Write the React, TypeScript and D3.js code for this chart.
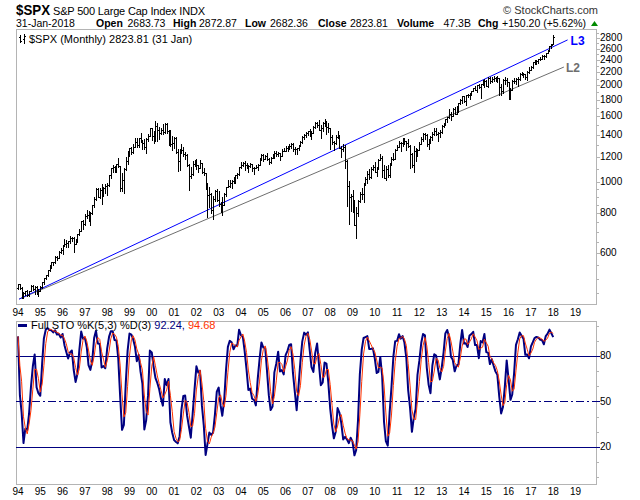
import React from "react";
import * as d3 from "d3";

// ---------- DATA (monthly S&P 500, Jan 1994 .. Jan 2018) ----------
const START_YEAR = 1994;
const FIRST_OPEN = 466.45;
const LAST_OPEN = 2683.73;

const CLOSES = [
  481.61, 467.14, 445.77, 450.91, 456.5, 444.27, 458.26, 475.49, 462.69, 472.35, 453.69, 459.27,
  470.42, 487.39, 500.71, 514.71, 533.4, 544.75, 562.06, 561.88, 584.41, 581.5, 605.37, 615.93,
  636.02, 640.43, 645.5, 654.17, 669.12, 670.63, 639.95, 651.99, 687.31, 705.27, 757.02, 740.74,
  786.16, 790.82, 757.12, 801.34, 848.28, 885.14, 954.29, 899.47, 947.28, 914.62, 955.4, 970.43,
  980.28, 1049.34, 1101.75, 1111.75, 1090.82, 1133.84, 1120.67, 957.28, 1017.01, 1098.67, 1163.63, 1229.23,
  1279.64, 1238.33, 1286.37, 1335.18, 1301.84, 1372.71, 1328.72, 1320.41, 1282.71, 1362.93, 1388.91, 1469.25,
  1394.46, 1366.42, 1498.58, 1452.43, 1420.6, 1454.6, 1430.83, 1517.68, 1436.51, 1429.4, 1314.95, 1320.28,
  1366.01, 1239.94, 1160.33, 1249.46, 1255.82, 1224.38, 1211.23, 1133.58, 1040.94, 1059.78, 1139.45, 1148.08,
  1130.2, 1106.73, 1147.39, 1076.92, 1067.14, 989.82, 911.62, 916.07, 815.28, 885.76, 936.31, 879.82,
  855.7, 841.15, 848.18, 916.92, 963.59, 974.5, 990.31, 1008.01, 995.97, 1050.71, 1058.2, 1111.92,
  1131.13, 1144.94, 1126.21, 1107.3, 1120.68, 1140.84, 1101.72, 1104.24, 1114.58, 1130.2, 1173.82, 1211.92,
  1181.27, 1203.6, 1180.59, 1156.85, 1191.5, 1191.33, 1234.18, 1220.33, 1228.81, 1207.01, 1249.48, 1248.29,
  1280.08, 1280.66, 1294.83, 1310.61, 1270.09, 1270.2, 1276.66, 1303.82, 1335.85, 1377.94, 1400.63, 1418.3,
  1438.24, 1406.82, 1420.86, 1482.37, 1530.62, 1503.35, 1455.27, 1473.99, 1526.75, 1549.38, 1481.14, 1468.36,
  1378.55, 1330.63, 1322.7, 1385.59, 1400.38, 1280.0, 1267.38, 1282.83, 1166.36, 968.75, 896.24, 903.25,
  825.88, 735.09, 797.87, 872.81, 919.14, 919.32, 987.48, 1020.62, 1057.08, 1036.19, 1095.63, 1115.1,
  1073.87, 1104.49, 1169.43, 1186.69, 1089.41, 1030.71, 1101.6, 1049.33, 1141.2, 1183.26, 1180.55, 1257.64,
  1286.12, 1327.22, 1325.83, 1363.61, 1345.2, 1320.64, 1292.28, 1218.89, 1131.42, 1253.3, 1246.96, 1257.6,
  1312.41, 1365.68, 1408.47, 1397.91, 1310.33, 1362.16, 1379.32, 1406.58, 1440.67, 1412.16, 1416.18, 1426.19,
  1498.11, 1514.68, 1569.19, 1597.57, 1630.74, 1606.28, 1685.73, 1632.97, 1681.55, 1756.54, 1805.81, 1848.36,
  1782.59, 1859.45, 1872.34, 1883.95, 1923.57, 1960.23, 1930.67, 2003.37, 1972.29, 2018.05, 2067.56, 2058.9,
  1994.99, 2104.5, 2067.89, 2085.51, 2107.39, 2063.11, 2103.84, 1972.18, 1920.03, 2079.36, 2080.41, 2043.94,
  1940.24, 1932.23, 2059.74, 2065.3, 2096.95, 2098.86, 2173.6, 2170.95, 2168.27, 2126.15, 2198.81, 2238.83,
  2278.87, 2363.64, 2362.72, 2384.2, 2411.8, 2423.41, 2470.3, 2471.65, 2519.36, 2575.26, 2647.58, 2673.61,
  2823.81,
];

const HIGHS = [
  482.85, 483.0, 471.09, 453.11, 458.54, 462.12, 459.27, 477.0, 476.5, 473.8, 473.9, 466.0,
  473.0, 489.0, 503.0, 515.0, 534.0, 551.0, 563.0, 565.0, 587.0, 587.0, 608.0, 623.0,
  638.0, 665.0, 661.0, 657.0, 681.0, 673.0, 675.0, 665.0, 690.0, 714.0, 758.0, 762.0,
  795.0, 817.0, 815.0, 805.0, 850.0, 898.0, 957.0, 960.0, 961.0, 987.0, 963.0, 986.0,
  992.0, 1051.0, 1106.0, 1130.0, 1123.0, 1139.0, 1190.0, 1122.0, 1067.0, 1102.0, 1193.0, 1245.0,
  1280.0, 1285.0, 1317.0, 1371.0, 1368.0, 1374.0, 1420.0, 1351.0, 1357.0, 1373.0, 1408.0, 1475.0,
  1478.0, 1445.0, 1553.0, 1528.0, 1482.0, 1475.0, 1517.0, 1525.0, 1530.0, 1454.0, 1453.0, 1389.0,
  1384.0, 1377.0, 1268.0, 1269.0, 1316.0, 1287.0, 1239.0, 1224.0, 1135.0, 1111.0, 1163.0, 1174.0,
  1176.0, 1130.5, 1173.0, 1147.8, 1106.0, 1070.0, 994.0, 966.0, 925.0, 907.0, 942.0, 954.0,
  935.0, 864.0, 895.0, 924.0, 966.0, 1015.0, 1015.0, 1011.0, 1040.0, 1054.0, 1063.0, 1112.0,
  1155.0, 1158.0, 1163.0, 1150.0, 1128.0, 1146.0, 1141.0, 1110.0, 1131.0, 1140.0, 1188.0, 1218.0,
  1218.0, 1213.0, 1229.0, 1192.0, 1200.0, 1219.0, 1246.0, 1245.0, 1244.0, 1233.0, 1271.0, 1276.0,
  1295.0, 1297.0, 1310.0, 1318.0, 1326.0, 1284.0, 1280.0, 1306.0, 1340.0, 1390.0, 1407.0, 1432.0,
  1441.0, 1461.0, 1438.0, 1498.0, 1535.0, 1541.0, 1556.0, 1504.0, 1538.0, 1576.0, 1553.0, 1524.0,
  1472.0, 1396.0, 1341.0, 1397.0, 1441.0, 1405.0, 1293.0, 1314.0, 1303.0, 1168.0, 1008.0, 918.0,
  944.0, 876.0, 833.0, 878.0, 930.0, 957.0, 996.0, 1039.0, 1081.0, 1101.0, 1113.0, 1130.0,
  1151.0, 1112.0, 1181.0, 1220.0, 1206.0, 1132.0, 1120.0, 1130.0, 1150.0, 1196.0, 1227.0, 1263.0,
  1303.0, 1345.0, 1333.0, 1366.0, 1371.0, 1346.0, 1357.0, 1308.0, 1230.0, 1293.0, 1278.0, 1269.0,
  1334.0, 1378.0, 1420.0, 1422.0, 1415.0, 1363.0, 1392.0, 1427.0, 1475.0, 1470.0, 1434.0, 1449.0,
  1510.0, 1530.0, 1570.0, 1598.0, 1687.0, 1654.0, 1698.0, 1710.0, 1730.0, 1765.0, 1814.0, 1850.0,
  1850.0, 1867.0, 1884.0, 1897.0, 1925.0, 1968.0, 1991.0, 2005.0, 2019.0, 2019.0, 2076.0, 2094.0,
  2073.0, 2119.0, 2118.0, 2126.0, 2135.0, 2130.0, 2133.0, 2113.0, 2021.0, 2094.0, 2116.0, 2104.0,
  2044.0, 1963.0, 2073.0, 2111.0, 2103.0, 2121.0, 2178.0, 2194.0, 2188.0, 2170.0, 2214.0, 2278.0,
  2301.0, 2371.0, 2401.0, 2399.0, 2418.0, 2454.0, 2484.0, 2491.0, 2520.0, 2582.0, 2657.0, 2695.0,
  2872.87,
];

const LOWS = [
  465.44, 464.26, 436.16, 435.86, 443.93, 441.5, 443.0, 457.0, 460.5, 449.4, 447.0, 443.0,
  457.0, 469.0, 481.0, 500.0, 510.0, 530.0, 541.0, 553.0, 560.0, 571.0, 580.0, 602.0,
  597.0, 631.0, 627.0, 627.0, 646.0, 657.0, 605.0, 639.0, 650.0, 684.0, 703.0, 716.0,
  737.0, 773.0, 756.0, 733.0, 797.0, 836.0, 882.0, 897.0, 893.0, 855.0, 902.0, 924.0,
  912.0, 971.0, 1032.0, 1076.0, 1074.0, 1074.0, 1115.0, 940.0, 940.0, 923.0, 1090.0, 1138.0,
  1205.0, 1225.0, 1232.0, 1282.0, 1287.0, 1281.0, 1328.0, 1269.0, 1269.0, 1233.0, 1342.0, 1387.0,
  1350.0, 1325.0, 1339.0, 1339.0, 1361.0, 1415.0, 1413.0, 1426.0, 1419.0, 1305.0, 1294.0, 1254.0,
  1275.0, 1228.0, 1081.0, 1092.0, 1232.0, 1202.0, 1183.0, 1124.0, 944.0, 1026.0, 1054.0, 1123.0,
  1101.0, 1074.0, 1105.0, 1063.0, 1048.0, 953.0, 776.0, 833.0, 801.0, 769.0, 873.0, 871.0,
  840.0, 807.0, 789.0, 847.0, 902.0, 963.0, 962.0, 960.0, 990.0, 995.0, 1031.0, 1053.0,
  1105.0, 1124.0, 1087.0, 1105.0, 1076.0, 1113.0, 1079.0, 1060.0, 1102.0, 1090.0, 1128.0, 1173.0,
  1163.0, 1180.0, 1175.0, 1137.0, 1146.0, 1188.0, 1191.0, 1201.0, 1205.0, 1168.0, 1202.0, 1246.0,
  1245.0, 1253.0, 1268.0, 1280.0, 1246.0, 1219.0, 1224.0, 1262.0, 1290.0, 1327.0, 1360.0, 1385.0,
  1403.0, 1389.0, 1364.0, 1416.0, 1476.0, 1484.0, 1454.0, 1371.0, 1439.0, 1489.0, 1407.0, 1435.0,
  1271.0, 1317.0, 1257.0, 1312.0, 1373.0, 1272.0, 1200.0, 1248.0, 1107.0, 840.0, 741.0, 815.0,
  805.0, 735.0, 667.0, 784.0, 866.0, 888.0, 869.0, 978.0, 992.0, 1020.0, 1029.0, 1086.0,
  1071.0, 1045.0, 1101.0, 1168.0, 1040.0, 1029.0, 1011.0, 1040.0, 1039.0, 1131.0, 1173.0, 1179.0,
  1257.0, 1284.0, 1249.0, 1299.0, 1311.0, 1258.0, 1282.0, 1102.0, 1114.0, 1075.0, 1159.0, 1202.0,
  1257.0, 1311.0, 1340.0, 1358.0, 1292.0, 1267.0, 1325.0, 1355.0, 1397.0, 1403.0, 1343.0, 1385.0,
  1426.0, 1485.0, 1501.0, 1536.0, 1581.0, 1560.0, 1605.0, 1627.0, 1632.0, 1646.0, 1746.0, 1768.0,
  1771.0, 1738.0, 1834.0, 1815.0, 1860.0, 1915.0, 1930.0, 1905.0, 1965.0, 1821.0, 2001.0, 1973.0,
  1988.0, 1981.0, 2040.0, 2049.0, 2067.0, 2056.0, 2044.0, 1867.0, 1872.0, 1893.0, 2019.0, 1993.0,
  1812.0, 1810.0, 1931.0, 2033.0, 2025.0, 1992.0, 2075.0, 2147.0, 2120.0, 2098.0, 2084.0, 2188.0,
  2238.0, 2271.0, 2322.0, 2328.0, 2353.0, 2405.0, 2407.0, 2417.0, 2447.0, 2515.0, 2557.0, 2605.0,
  2682.36,
];

const YEAR_LABELS = ["94","95","96","97","98","99","00","01","02","03","04","05","06","07","08","09","10","11","12","13","14","15","16","17","18","19"];
const PRICE_LABELS = [600, 800, 1000, 1200, 1400, 1600, 1800, 2000, 2200, 2400, 2600, 2800];
const PRICE_MINOR = [450, 500, 550, 650, 700, 750, 850, 900, 950, 1100, 1300, 1500, 1700, 1900, 2100, 2300, 2500, 2700, 2900];
const STO_LABELS = [20, 50, 80];
const STO_MINOR = [0, 10, 30, 40, 60, 70, 90, 100];

// trendlines: [date, price] anchors
const L3_POINTS: [string, number][] = [["1994-01-20", 432], ["2018-08-25", 2770]];
const L2_POINTS: [string, number][] = [["1994-01-20", 432], ["2018-06-25", 2280]];

const HEADER_FIELDS = [
  { label: "Open", value: "2683.73", lx: 96, vx: 127.5 },
  { label: "High", value: "2872.87", lx: 173, vx: 199 },
  { label: "Low", value: "2682.36", lx: 245, vx: 270 },
  { label: "Close", value: "2823.81", lx: 318, vx: 350 },
  { label: "Volume", value: "47.3B", lx: 397, vx: 443.5 },
  { label: "Chg", value: "+150.20 (+5.62%)", lx: 478, vx: 502 },
];

const FONT = "'Liberation Sans', Arial, Helvetica, sans-serif";
const NAVY = "#000080";
const RED = "#ff3300";
const FRAME = "#b4b4b4";

export default function App() {
  const n = CLOSES.length;
  const dates = d3.range(n).map((i) => new Date(Date.UTC(START_YEAR, i, 1)));
  const opens = CLOSES.map((c, i) => (i === 0 ? FIRST_OPEN : i === n - 1 ? LAST_OPEN : CLOSES[i - 1]));

  const P = { l: 16, r: 596, t: 29, b: 304 };
  const S = { l: 16, r: 596, t: 321, b: 484 };

  const x = d3
    .scaleUtc()
    .domain([new Date(Date.UTC(1994, 0, 1)), new Date(Date.UTC(2019, 0, 1))])
    .range([18, 575.5]);
  const y = d3.scaleLog().domain([417, 2995]).range([P.b, P.t]);
  const ys = d3.scaleLinear().domain([-4.4, 103]).range([S.b, S.t]);

  // Full stochastic %K(5,3) %D(3)
  const rawK = CLOSES.map((c, i) => {
    const s = Math.max(0, i - 4);
    const hh = d3.max(HIGHS.slice(s, i + 1)) as number;
    const ll = d3.min(LOWS.slice(s, i + 1)) as number;
    return hh === ll ? 50 : (100 * (c - ll)) / (hh - ll);
  });
  const sma = (arr: number[], p: number) =>
    arr.map((_, i) => d3.mean(arr.slice(Math.max(0, i - p + 1), i + 1)) as number);
  const fullK = sma(rawK, 3);
  const fullD = sma(fullK, 3);

  const stoLine = d3
    .line<number>()
    .x((_, i) => x(dates[i]))
    .y((v) => ys(v));

  const trend = (pts: [string, number][]) =>
    d3
      .line<[string, number]>()
      .x((p) => x(new Date(p[0] + "T00:00:00Z")))
      .y((p) => y(p[1]))(pts) as string;

  const bars = dates.map((d, i) => {
    const px = Math.round(x(d));
    const yh = Math.round(y(HIGHS[i]));
    const yl = Math.round(y(LOWS[i]));
    const yo = Math.round(y(opens[i]));
    const yc = Math.round(y(CLOSES[i]));
    return (
      <g key={i}>
        <rect x={px} y={yh} width={1} height={Math.max(1, yl - yh + 1)} />
        <rect x={px - 1} y={yo} width={1} height={1} />
        <rect x={px + 1} y={yc} width={1} height={1} />
      </g>
    );
  });

  const yearX = YEAR_LABELS.map((lab, k) => ({ lab, px: x(new Date(Date.UTC(START_YEAR + k, 0, 1))) }));

  const l3End = L3_POINTS[1];
  const l2End = L2_POINTS[1];

  return (
    <div style={{ position: "absolute", left: 0, top: 0 }}>
      <svg width={640} height={500} style={{ display: "block", background: "#fff" }} fontFamily={FONT}>
        <defs>
          <clipPath id="stoClip">
            <rect x={S.l} y={S.t} width={S.r - S.l} height={S.b - S.t} />
          </clipPath>
          <clipPath id="priceClip">
            <rect x={P.l} y={P.t} width={P.r - P.l} height={P.b - P.t} />
          </clipPath>
        </defs>

        {/* Header */}
        <text x={16} y={15} fontSize={15} fontWeight="bold" fill="#000" textLength={34} lengthAdjust="spacingAndGlyphs">$SPX</text>
        <text x={53} y={15} fontSize={11} fill="#000" textLength={152} lengthAdjust="spacing">S&amp;P 500 Large Cap Index  INDX</text>
        <text x={598} y={14} fontSize={11} fill="#333" textAnchor="end">© StockCharts.com</text>

        <text x={16} y={27} fontSize={10.5} fill="#000">31-Jan-2018</text>
        {HEADER_FIELDS.map((f) => (
          <g key={f.label}>
            <text x={f.lx} y={27} fontSize={10.5} fontWeight="bold" fill="#000">{f.label}</text>
            <text x={f.vx} y={27} fontSize={10.5} fill="#000">{f.value}</text>
          </g>
        ))}
        <path d="M591,26 L598,26 L594.5,21 Z" fill="#008a00" />

        {/* Price panel frame */}
        <rect x={P.l + 0.5} y={P.t + 0.5} width={P.r - P.l} height={P.b - P.t} fill="none" stroke={FRAME} />

        {/* Price axis ticks */}
        {PRICE_MINOR.map((v) => (
          <line key={"pm" + v} x1={P.r + 0.5} x2={P.r + 3} y1={Math.round(y(v)) + 0.5} y2={Math.round(y(v)) + 0.5} stroke={FRAME} />
        ))}
        {PRICE_LABELS.map((v) => (
          <g key={"pl" + v}>
            <line x1={P.r + 0.5} x2={P.r + 4} y1={Math.round(y(v)) + 0.5} y2={Math.round(y(v)) + 0.5} stroke={FRAME} />
            <text x={600} y={y(v) + 3} fontSize={10} fill="#000">{v}</text>
          </g>
        ))}

        {/* Legend */}
        <g stroke="#000" strokeWidth={1}>
          <line x1={20.5} y1={35} x2={20.5} y2={43} />
          <line x1={19} y1={37.5} x2={20} y2={37.5} />
          <line x1={21} y1={41.5} x2={22} y2={41.5} />
          <line x1={24.5} y1={34} x2={24.5} y2={44} />
          <line x1={23} y1={39.5} x2={24} y2={39.5} />
          <line x1={25} y1={36.5} x2={26} y2={36.5} />
        </g>
        <text x={29} y={43} fontSize={11} fill="#000">$SPX (Monthly) 2823.81 (31 Jan)</text>

        {/* Trendlines */}
        <g clipPath="url(#priceClip)">
          <path d={trend(L2_POINTS)} stroke="#6e6e6e" strokeWidth={1} fill="none" />
          <path d={trend(L3_POINTS)} stroke="#0000ff" strokeWidth={1} fill="none" />
        </g>
        <text x={x(new Date(l3End[0] + "T00:00:00Z")) + 3} y={y(l3End[1]) + 5} fontSize={12} fontWeight="bold" fill="#0000ff">L3</text>
        <text x={x(new Date(l2End[0] + "T00:00:00Z")) + 2} y={y(l2End[1]) + 5} fontSize={12} fontWeight="bold" fill="#6e6e6e">L2</text>

        {/* OHLC bars */}
        <g fill="#000" shapeRendering="crispEdges" clipPath="url(#priceClip)">{bars}</g>

        {/* Year labels, price panel */}
        {yearX.map((d) => (
          <text key={"ya" + d.lab} x={d.px} y={316} fontSize={10} textAnchor="middle" fill="#000">{d.lab}</text>
        ))}

        {/* Stochastic panel */}
        <rect x={S.l + 0.5} y={S.t + 0.5} width={S.r - S.l} height={S.b - S.t} fill="none" stroke={FRAME} />
        {STO_MINOR.map((v) => (
          <line key={"sm" + v} x1={S.r + 0.5} x2={S.r + 3} y1={Math.round(ys(v)) + 0.5} y2={Math.round(ys(v)) + 0.5} stroke={FRAME} />
        ))}
        {STO_LABELS.map((v) => (
          <g key={"sl" + v}>
            <line
              x1={S.l}
              x2={S.r + 4}
              y1={Math.round(ys(v)) + 0.5}
              y2={Math.round(ys(v)) + 0.5}
              stroke={NAVY}
              strokeWidth={1}
              strokeDasharray={v === 50 ? "8,3,2,3" : undefined}
            />
            <text x={600} y={ys(v) + 3.5} fontSize={10} fill="#000">{v}</text>
          </g>
        ))}
        <g clipPath="url(#stoClip)">
          <path d={stoLine(fullK) as string} stroke={NAVY} strokeWidth={2} fill="none" strokeLinejoin="round" />
          <path d={stoLine(fullD) as string} stroke={RED} strokeWidth={1} fill="none" />
        </g>
        <line x1={18} x2={27} y1={325.5} y2={325.5} stroke={NAVY} strokeWidth={3} />
        <text x={31} y={329} fontSize={11} fill="#000">
          Full STO %K(5,3) %D(3) <tspan fill={NAVY}>92.24,</tspan> <tspan fill={RED}>94.68</tspan>
        </text>

        {yearX.map((d) => (
          <text key={"yb" + d.lab} x={d.px} y={495} fontSize={10} textAnchor="middle" fill="#000">{d.lab}</text>
        ))}
      </svg>
    </div>
  );
}
